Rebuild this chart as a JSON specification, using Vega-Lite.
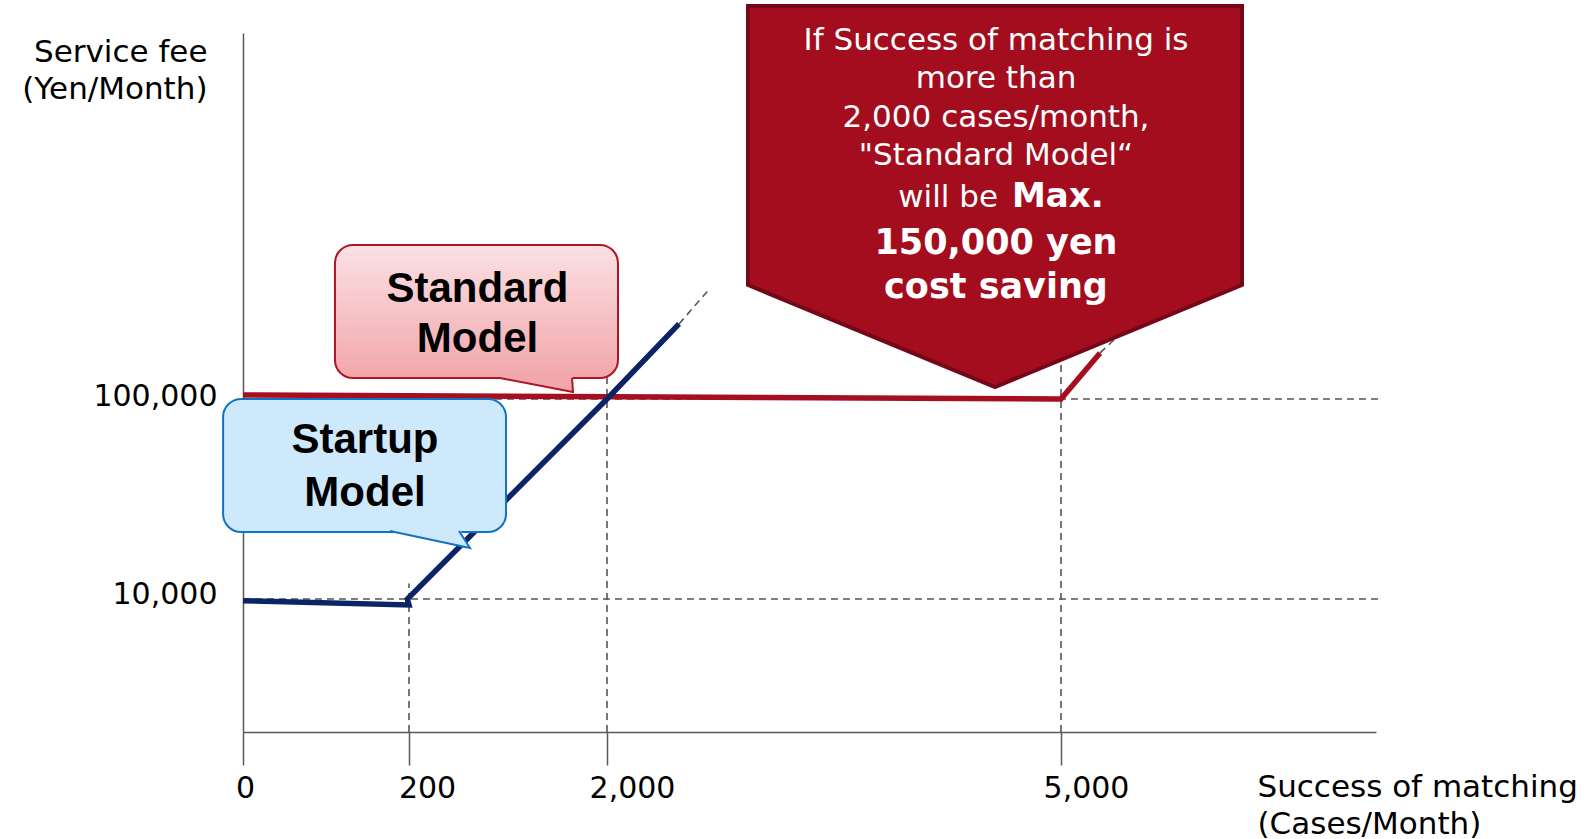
{
  "$schema": "https://vega.github.io/schema/vega-lite/v6.json",
  "width": 1133,
  "height": 699,
  "autosize": {"type": "none"},
  "padding": {"left": 243, "top": 33, "right": 213, "bottom": 107},
  "background": "white",
  "config": {"view": {"stroke": null}, "font": "DejaVu Sans"},
  "encoding": {
    "x": {
      "field": "x",
      "type": "quantitative",
      "scale": {"domain": [0, 200, 2000, 5000, 7000], "range": [0, 166, 364, 818, 1133], "nice": false, "zero": false},
      "axis": {
        "values": [0, 200, 2000, 5000],
        "labelExpr": "format(datum.value, ',')",
        "grid": false,
        "title": ["Success of matching", "(Cases/Month)"],
        "titleX": 1014,
        "titleY": 40,
        "titleAlign": "left",
        "titleAnchor": "start",
        "titleBaseline": "top",
        "titleAngle": 0,
        "titleLineHeight": 37,
        "titleFont": "DejaVu Sans",
        "titleFontSize": 31,
        "titleFontWeight": "normal",
        "titleColor": "#000000",
        "labelFont": "DejaVu Sans",
        "labelFontSize": 30,
        "labelColor": "#000000",
        "labelPadding": 8,
        "labelFlush": false,
        "labelOverlap": false,
        "labelOffset": {"condition": [{"test": "datum.value == 0", "value": 2}, {"test": "datum.value == 200", "value": 18}], "value": 25},
        "tickSize": 33,
        "tickColor": "#595959",
        "tickWidth": 1.5,
        "domainColor": "#595959",
        "domainWidth": 1.5
      }
    },
    "y": {
      "field": "y",
      "type": "quantitative",
      "scale": {"domain": [0, 10000, 100000, 216000], "range": [699, 566, 366, 0], "nice": false, "zero": false},
      "axis": {
        "values": [10000, 100000],
        "labelExpr": "format(datum.value, ',')",
        "grid": false,
        "ticks": false,
        "tickSize": 0,
        "title": ["Service fee", "(Yen/Month)"],
        "titleX": -36,
        "titleY": 4,
        "titleAlign": "right",
        "titleAnchor": "start",
        "titleBaseline": "top",
        "titleAngle": 0,
        "titleLineHeight": 37,
        "titleFont": "DejaVu Sans",
        "titleFontSize": 31,
        "titleFontWeight": "normal",
        "titleColor": "#000000",
        "labelFont": "DejaVu Sans",
        "labelFontSize": 30,
        "labelColor": "#000000",
        "labelPadding": 26,
        "labelOffset": {"condition": {"test": "datum.value == 10000", "value": -5}, "value": -3},
        "domainColor": "#595959",
        "domainWidth": 1.5
      }
    }
  },
  "layer": [
    {
      "data": {"values": [
        {"x": 0, "y": 10000, "x2": 7013, "y2": 10000},
        {"x": 0, "y": 100000, "x2": 7013, "y2": 100000},
        {"x": 200, "y": 0, "x2": 200, "y2": 17000},
        {"x": 2000, "y": 0, "x2": 2000, "y2": 108200},
        {"x": 5000, "y": 0, "x2": 5000, "y2": 113300},
        {"x": 2476, "y": 123800, "x2": 2670, "y2": 134500},
        {"x": 5248, "y": 114600, "x2": 5336, "y2": 118700}
      ]},
      "mark": {"type": "rule", "color": "#555555", "strokeWidth": 1.6, "strokeDash": [7, 5]},
      "encoding": {"x2": {"field": "x2"}, "y2": {"field": "y2"}}
    },
    {
      "data": {"values": [
        {"i": 0, "x": 0, "y": 101270},
        {"i": 1, "x": 5000, "y": 100000},
        {"i": 2, "x": 5248, "y": 114600}
      ]},
      "mark": {"type": "line", "color": "#a50f20", "strokeWidth": 5.5},
      "encoding": {"order": {"field": "i"}}
    },
    {
      "data": {"values": [
        {"i": 0, "x": 0, "y": 9870},
        {"i": 1, "x": 200, "y": 9550},
        {"i": 2, "x": 198, "y": 10000},
        {"i": 3, "x": 2000, "y": 100000},
        {"i": 4, "x": 2476, "y": 123800}
      ]},
      "mark": {"type": "line", "color": "#0b2467", "strokeWidth": 5.5},
      "encoding": {"order": {"field": "i"}}
    },
    {
      "data": {"values": [
        {"x": 2931.7, "y": 136131, "y2": 224557},
        {"x": 4563.9, "y": 103803, "y2": 224557},
        {"x": 6149.2, "y": 136131, "y2": 224557}
      ]},
      "mark": {"type": "area", "fill": "#a30d1e", "stroke": "#74081a", "strokeWidth": 4, "strokeJoin": "miter", "opacity": 1},
      "encoding": {"y2": {"field": "y2"}}
    },
    {
      "data": {"values": [{"x": 110.8, "x2": 2072.7, "y": 106656, "y2": 148809}]},
      "mark": {
        "type": "rect",
        "cornerRadius": 18,
        "fill": {"gradient": "linear", "x1": 0, "y1": 0, "x2": 0, "y2": 1, "stops": [{"offset": 0, "color": "#fbe1e4"}, {"offset": 1, "color": "#f1a7ab"}]},
        "stroke": "#b01525",
        "strokeWidth": 2
      },
      "encoding": {"x2": {"field": "x2"}, "y2": {"field": "y2"}}
    },
    {
      "data": {"values": [
        {"x": 1027.3, "y": 106656, "y2": 107924},
        {"x": 1686, "y": 102219, "y2": 107924}
      ]},
      "mark": {"type": "area", "fill": "#f1a7ab", "opacity": 1},
      "encoding": {"y2": {"field": "y2"}}
    },
    {
      "data": {"values": [
        {"i": 0, "x": 1027.3, "y": 106656},
        {"i": 1, "x": 1691, "y": 102219},
        {"i": 2, "x": 1682, "y": 106656}
      ]},
      "mark": {"type": "line", "color": "#b01525", "strokeWidth": 2},
      "encoding": {"order": {"field": "i"}}
    },
    {
      "data": {"values": [{"x": -24, "x2": 1082, "y": 40150, "y2": 100000}]},
      "mark": {"type": "rect", "cornerRadius": 18, "fill": "#cde9fb", "stroke": "#1273c3", "strokeWidth": 2},
      "encoding": {"x2": {"field": "x2"}, "y2": {"field": "y2"}}
    },
    {
      "data": {"values": [
        {"x": 177, "y": 40600, "y2": 41950},
        {"x": 654.5, "y": 33985, "y2": 41950},
        {"x": 754.5, "y": 32950, "y2": 32950}
      ]},
      "mark": {"type": "area", "fill": "#cde9fb", "opacity": 1},
      "encoding": {"y2": {"field": "y2"}}
    },
    {
      "data": {"values": [
        {"i": 0, "x": 177, "y": 40600},
        {"i": 1, "x": 754.5, "y": 32950},
        {"i": 2, "x": 654.5, "y": 40600}
      ]},
      "mark": {"type": "line", "color": "#1273c3", "strokeWidth": 2},
      "encoding": {"order": {"field": "i"}}
    },
    {
      "data": {"values": [
        {"x": 822.7, "y": 130743, "t": "Standard"},
        {"x": 822.7, "y": 114896, "t": "Model"},
        {"x": 147, "y": 75700, "t": "Startup"},
        {"x": 147, "y": 51850, "t": "Model"}
      ]},
      "mark": {"type": "text", "font": "Liberation Sans", "fontWeight": "bold", "fontSize": 42, "align": "center", "baseline": "alphabetic", "color": "#000000"},
      "encoding": {"text": {"field": "t"}}
    },
    {
      "data": {"values": [
        {"x": 4570.5, "y": 210612, "t": "If Success of matching is"},
        {"x": 4570.5, "y": 198568, "t": "more than"},
        {"x": 4570.5, "y": 186208, "t": "2,000 cases/month,"},
        {"x": 4570.5, "y": 174164, "t": "\"Standard Model“"}
      ]},
      "mark": {"type": "text", "font": "DejaVu Sans", "fontSize": 31, "align": "center", "baseline": "alphabetic", "color": "#ffffff"},
      "encoding": {"text": {"field": "t"}}
    },
    {
      "data": {"values": [{"x": 4583.7, "y": 160852, "t": "will be"}]},
      "mark": {"type": "text", "font": "DejaVu Sans", "fontSize": 31, "align": "right", "baseline": "alphabetic", "color": "#ffffff"},
      "encoding": {"text": {"field": "t"}}
    },
    {
      "data": {"values": [{"x": 4676, "y": 160852, "t": "Max."}]},
      "mark": {"type": "text", "font": "DejaVu Sans", "fontWeight": "bold", "fontSize": 34, "align": "left", "baseline": "alphabetic", "color": "#ffffff"},
      "encoding": {"text": {"field": "t"}}
    },
    {
      "data": {"values": [
        {"x": 4570.5, "y": 145956, "t": "150,000 yen"},
        {"x": 4570.5, "y": 132011, "t": "cost saving"}
      ]},
      "mark": {"type": "text", "font": "DejaVu Sans", "fontWeight": "bold", "fontSize": 35, "align": "center", "baseline": "alphabetic", "color": "#ffffff"},
      "encoding": {"text": {"field": "t"}}
    }
  ]
}
